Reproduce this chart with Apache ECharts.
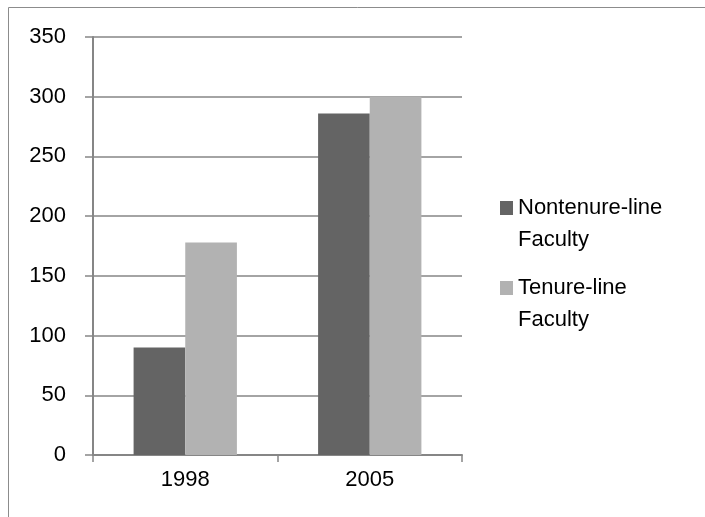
<!DOCTYPE html>
<html>
<head>
<meta charset="utf-8">
<script src="https://cdn.jsdelivr.net/npm/echarts@6/dist/echarts.min.js"></script>
<style>
  html, body { margin: 0; padding: 0; background: #fff; }
  #main { width: 705px; height: 517px; }
</style>
</head>
<body>
<div id="main"></div>
<script>
// data
var years = ['1998', '2005'];
var nontenure = [90, 286];
var tenure = [178, 300];
var seriesNames = ['Nontenure-line\nFaculty', 'Tenure-line\nFaculty'];

var font = "'Liberation Sans', Arial, sans-serif";
var gray = '#868686';
// square on top, empty zero-area line below so the square sits next to the first text line
var legendIcon = 'path://M0,0H13V14H0Z M0,46H13';

var myChart = echarts.init(document.getElementById('main'));

option = {
	animation: false,
	backgroundColor: '#fff',
	textStyle: { fontFamily: font },
	// outer chart border (cut off at right and bottom)
	graphic: [{
		type: 'rect',
		shape: { x: 8.5, y: 7.5, width: 760, height: 560 },
		style: { fill: 'none', stroke: '#8c8c8c', lineWidth: 1 },
		silent: true
	}],
	grid: { left: 93, right: 243, top: 37, bottom: 62 },
	legend: {
		orient: 'vertical',
		left: 495,
		top: 187,
		itemWidth: 13,
		itemHeight: 46,
		itemGap: 16,
		textStyle: {
			fontFamily: font,
			fontSize: 22,
			color: '#000',
			lineHeight: 32
		},
		data: [
			{ name: seriesNames[0], icon: legendIcon },
			{ name: seriesNames[1], icon: legendIcon }
		]
	},
	xAxis: {
		type: 'category',
		data: years,
		axisLine: { lineStyle: { color: gray, width: 2 } },
		axisTick: { show: true, length: 7, lineStyle: { color: gray, width: 1.5 } },
		axisLabel: { color: '#000', fontSize: 22, fontFamily: font, margin: 14 }
	},
	yAxis: {
		type: 'value',
		min: 0,
		max: 350,
		interval: 50,
		axisLine: { show: true, lineStyle: { color: gray, width: 2 } },
		axisTick: { show: true, length: 8, lineStyle: { color: gray, width: 1.5 } },
		axisLabel: { color: '#000', fontSize: 22, fontFamily: font, margin: 27 },
		splitLine: { lineStyle: { color: gray, width: 1.5 } }
	},
	series: [
		{
			name: seriesNames[0],
			type: 'bar',
			data: nontenure,
			barGap: '0%',
			barCategoryGap: '44%',
			itemStyle: { color: '#646464' }
		},
		{
			name: seriesNames[1],
			type: 'bar',
			data: tenure,
			itemStyle: { color: '#b2b2b2' }
		}
	]
};

myChart.setOption(option);
window.onresize = myChart.resize;
</script>
</body>
</html>
